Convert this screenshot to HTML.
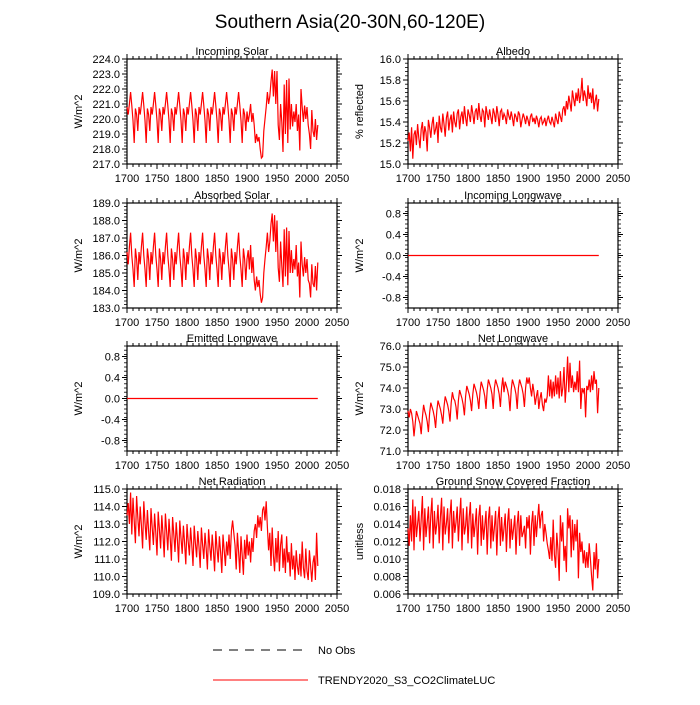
<!DOCTYPE html>
<html><head><meta charset="utf-8"><style>
body{margin:0;background:#fff;}
svg text{font-family:"Liberation Sans",sans-serif;fill:#000;}
</style></head><body>
<svg id="c" width="700" height="700" viewBox="0 0 700 700">
<text x="350" y="28" font-size="19" text-anchor="middle">Southern Asia(20-30N,60-120E)</text>
<g>
<line x1="213" y1="650" x2="308" y2="650" stroke="#000" stroke-width="1" stroke-dasharray="9,7"/>
<text x="318" y="654" font-size="11">No Obs</text>
<line x1="213" y1="680" x2="308" y2="680" stroke="#f00" stroke-width="1"/>
<text x="318" y="684" font-size="11">TRENDY2020_S3_CO2ClimateLUC</text>
</g>
</svg>
<script>
const years = [];
for (let y = 1700; y <= 2018; y += 2) years.push(y);
const xTicks = [1700,1750,1800,1850,1900,1950,2000,2050];

const cycIn = [220.8,220.3,221.0,221.8,220.9,219.9,218.4,220.7,220.3,219.2];
const incomingSolar = [].concat(cycIn,cycIn,cycIn,cycIn,cycIn,cycIn,cycIn,cycIn,cycIn,cycIn,
 [220.5,219.8,220.3,221.0,219.8,220.4,219.6,218.4,219.0,218.5,
  218.8,218.0,217.4,217.5,219.2,220.0,220.8,221.8,221.0,221.5,
  222.5,223.3,221.5,223.2,221.0,223.2,219.6,218.6,221.0,219.8,
  217.8,222.3,219.0,222.6,218.4,222.7,219.3,221.0,219.5,220.5,
  219.8,221.0,219.2,220.3,217.9,222.0,220.8,219.8,220.9,220.0,
  220.8,219.6,219.0,218.0,220.6,219.2,218.8,220.0,218.6,219.6]);

const albedo = [15.22,15.30,15.12,15.35,15.05,15.28,15.32,15.18,15.38,15.25,15.15,15.33,15.40,15.22,15.36,15.30,15.12,15.42,15.35,15.25,
 15.38,15.45,15.28,15.33,15.40,15.20,15.46,15.35,15.30,15.48,15.38,15.26,15.44,15.50,15.32,15.42,15.47,15.30,15.50,15.40,
 15.35,15.48,15.52,15.33,15.45,15.50,15.38,15.55,15.44,15.36,15.52,15.47,15.40,15.56,15.48,15.38,15.50,15.53,15.42,15.58,
 15.46,15.40,15.52,15.50,15.35,15.55,15.48,15.42,15.52,15.45,15.38,15.53,15.48,15.40,15.55,15.47,15.36,15.50,15.52,15.42,
 15.48,15.45,15.38,15.52,15.46,15.42,15.50,15.44,15.36,15.48,15.45,15.40,15.50,15.47,15.35,15.42,15.48,15.44,15.38,15.46,
 15.42,15.36,15.45,15.48,15.40,15.44,15.38,15.46,15.42,15.35,15.43,15.45,15.38,15.40,15.44,15.36,15.42,15.46,15.40,15.38,
 15.45,15.40,15.35,15.48,15.42,15.38,15.50,15.45,15.40,15.52,15.55,15.46,15.60,15.52,15.65,15.58,15.50,15.70,15.62,15.55,
 15.68,15.60,15.72,15.58,15.66,15.82,15.60,15.70,15.64,15.55,15.75,15.62,15.68,15.58,15.72,15.52,15.60,15.66,15.50,15.62];

const cycAb = [186.2,185.5,186.5,187.3,186.0,185.2,184.2,186.4,185.8,184.6];
const absorbedSolar = [].concat(cycAb,cycAb,cycAb,cycAb,cycAb,cycAb,cycAb,cycAb,cycAb,cycAb,
 [185.8,186.3,185.2,186.6,185.0,185.9,184.6,184.0,184.8,184.2,
  184.6,183.8,183.3,183.6,185.0,185.8,186.5,187.3,186.2,186.8,
  187.8,188.4,186.8,188.3,186.2,188.0,185.3,184.5,186.8,185.4,
  184.2,187.5,184.8,187.6,184.3,187.4,185.0,186.3,185.0,185.8,
  185.2,186.6,184.8,185.6,183.6,186.8,185.5,184.8,185.9,185.0,
  185.8,184.6,184.4,183.6,185.5,184.4,184.2,185.4,184.0,185.6]);

const zeros = years.map(() => 0);

const netLongwave = [72.9,72.6,73.0,72.8,72.4,71.7,72.3,72.9,72.7,72.5,72.3,71.8,72.6,73.2,72.9,72.7,72.4,71.9,72.8,73.3,
 73.1,72.9,72.6,72.1,72.9,73.4,73.2,73.0,72.7,72.3,73.1,73.6,73.4,73.2,72.9,72.4,73.3,73.8,73.5,73.4,
 73.1,72.5,73.4,73.9,73.7,73.5,73.2,72.7,73.6,74.1,73.9,73.7,73.4,72.9,73.7,74.2,74.0,73.8,73.5,73.0,
 73.8,74.3,74.1,73.9,73.6,73.0,73.9,74.4,74.2,74.0,73.7,73.0,74.0,74.4,74.2,74.0,73.7,73.1,74.0,74.5,
 73.8,74.3,74.1,73.9,73.6,72.9,73.9,74.4,74.2,74.0,73.7,73.0,74.0,74.4,74.2,74.0,73.7,73.1,74.0,74.5,
 74.2,74.5,74.0,73.6,74.2,73.8,73.2,73.6,73.9,73.0,73.5,73.8,73.2,72.9,73.5,73.3,73.6,74.6,73.6,74.4,
 73.5,74.3,73.6,74.6,73.7,74.5,73.5,74.8,73.6,74.0,75.0,73.3,74.2,75.5,73.8,75.2,74.0,74.6,73.8,74.3,
 73.9,74.8,73.8,75.3,73.0,74.0,73.8,74.0,72.6,74.1,73.9,74.4,73.8,74.6,73.9,74.8,74.2,74.4,72.8,74.0];

const netRadiation = [113.5,114.2,113.0,114.8,112.4,114.5,113.2,111.9,114.6,113.4,112.3,114.0,112.9,111.6,114.3,113.1,112.1,113.8,112.6,111.5,
 113.9,112.8,111.8,113.6,112.5,111.2,113.7,112.7,111.6,113.5,112.4,111.1,113.6,112.6,111.5,113.3,112.2,110.9,113.4,112.4,
 111.4,113.1,112.1,110.8,113.2,112.2,111.3,112.9,111.9,110.7,113.0,112.0,111.2,112.8,111.8,110.6,112.9,111.9,111.1,112.6,
 111.7,110.5,112.8,111.8,111.0,112.5,111.6,110.4,112.7,111.7,110.9,112.4,111.5,110.3,112.6,111.6,110.8,112.3,111.4,110.2,
 112.4,111.5,110.6,112.0,111.2,112.4,111.0,112.6,113.2,112.5,111.8,110.4,112.5,111.4,110.2,112.3,111.2,110.1,112.1,111.0,
 112.4,111.2,112.0,110.8,112.2,111.4,112.6,113.0,112.2,113.5,112.8,113.4,112.6,113.8,114.0,113.2,114.3,112.8,111.5,112.5,
 110.6,112.8,111.2,110.3,112.2,110.8,112.6,110.3,111.8,112.4,110.5,111.6,110.2,112.3,110.8,111.4,110.0,111.9,110.4,111.2,
 109.8,111.5,110.6,110.1,111.3,110.0,112.0,110.5,109.9,111.6,110.3,109.8,111.5,110.6,109.7,110.8,111.2,109.8,112.5,110.6];

const snowFraction = [0.0135,0.0115,0.0150,0.0120,0.0168,0.0110,0.0160,0.0125,0.0140,0.0155,0.0120,0.0145,0.0172,0.0110,0.0158,0.0125,0.0142,0.0160,0.0118,0.0150,
 0.0170,0.0112,0.0155,0.0128,0.0140,0.0162,0.0118,0.0148,0.0170,0.0110,0.0160,0.0128,0.0140,0.0158,0.0118,0.0150,0.0168,0.0112,0.0155,0.0130,
 0.0142,0.0160,0.0120,0.0148,0.0170,0.0110,0.0158,0.0128,0.0138,0.0160,0.0118,0.0148,0.0165,0.0112,0.0152,0.0125,0.0140,0.0158,0.0105,0.0148,
 0.0162,0.0115,0.0150,0.0122,0.0138,0.0155,0.0105,0.0145,0.0160,0.0112,0.0150,0.0120,0.0136,0.0155,0.0104,0.0145,0.0160,0.0115,0.0148,0.0120,
 0.0135,0.0152,0.0108,0.0142,0.0158,0.0112,0.0146,0.0122,0.0135,0.0150,0.0105,0.0140,0.0155,0.0115,0.0150,0.0125,0.0130,0.0138,0.0112,0.0148,
 0.0135,0.0150,0.0105,0.0140,0.0155,0.0115,0.0150,0.0125,0.0145,0.0163,0.0135,0.0150,0.0155,0.0120,0.0140,0.0130,0.0118,0.0110,0.0100,0.0125,
 0.0098,0.0145,0.0105,0.0090,0.0130,0.0110,0.0075,0.0150,0.0120,0.0142,0.0098,0.0115,0.0085,0.0158,0.0135,0.0150,0.0102,0.0145,0.0110,0.0140,
 0.0120,0.0145,0.0078,0.0130,0.0108,0.0120,0.0095,0.0110,0.0090,0.0108,0.0090,0.0118,0.0100,0.0080,0.0064,0.0108,0.0088,0.0118,0.0078,0.0100];

const panelTitles = ["Incoming Solar","Albedo","Absorbed Solar","Incoming Longwave","Emitted Longwave","Net Longwave","Net Radiation","Ground Snow Covered Fraction"];
const yTitles = ["W/m^2","% reflected","W/m^2","W/m^2","W/m^2","W/m^2","W/m^2","unitless"];
const yMins = [217,15.0,183,-1,-1,71,109,0.006];
const yMaxs = [224,16.0,189,1,1,76,115,0.018];
const yTickLabels = [
 ["217.0","218.0","219.0","220.0","221.0","222.0","223.0","224.0"],
 ["15.0","15.2","15.4","15.6","15.8","16.0"],
 ["183.0","184.0","185.0","186.0","187.0","188.0","189.0"],
 ["-0.8","-0.4","0.0","0.4","0.8"],
 ["-0.8","-0.4","0.0","0.4","0.8"],
 ["71.0","72.0","73.0","74.0","75.0","76.0"],
 ["109.0","110.0","111.0","112.0","113.0","114.0","115.0"],
 ["0.006","0.008","0.010","0.012","0.014","0.016","0.018"]];
const seriesList = [incomingSolar,albedo,absorbedSolar,zeros,zeros,netLongwave,netRadiation,snowFraction];

const svg = document.getElementById('c');
const NS = 'http://www.w3.org/2000/svg';
function mk(tag, attrs, parent){const e=document.createElementNS(NS,tag);for(const k in attrs)e.setAttribute(k,attrs[k]);(parent||svg).appendChild(e);return e;}
const lefts=[127,408], tops=[59,203,346,489], W=210, H=105;

for(let p=0;p<8;p++){
 const x0=lefts[p%2], y0=tops[Math.floor(p/2)];
 const g=mk('g',{});
 
 
 const xs=v=>x0+(v-1700)/(2050-1700)*W;
 const ys=v=>y0+H-(v-yMins[p])/(yMaxs[p]-yMins[p])*H;
 const t=mk('text',{x:x0+W/2,y:y0-4,'font-size':11,'text-anchor':'middle'},g);t.textContent=panelTitles[p];
 
 
 const yt=mk('text',{x:0,y:0,'font-size':11,'text-anchor':'middle',transform:`translate(${x0-45},${y0+H/2}) rotate(-90)`},g);yt.textContent=yTitles[p];
 
 
 xTicks.forEach((v,i)=>{
  const x=xs(v);
  mk('line',{x1:x,y1:y0+H,x2:x,y2:y0+H+5,stroke:'#000'},g);
  mk('line',{x1:x,y1:y0,x2:x,y2:y0-5,stroke:'#000'},g);
  const l=mk('text',{x:x,y:y0+H+18,'font-size':11,'text-anchor':'middle'},g);l.textContent=v;
  
  
  if(i<xTicks.length-1){for(let m=1;m<5;m++){const xm=xs(v+m*10);mk('line',{x1:xm,y1:y0+H,x2:xm,y2:y0+H+3,stroke:'#000'},g);mk('line',{x1:xm,y1:y0,x2:xm,y2:y0-3,stroke:'#000'},g);}}
 });
 const labs=yTickLabels[p];
 labs.forEach((s)=>{
  const v=parseFloat(s), y=ys(v);
  mk('line',{x1:x0,y1:y,x2:x0-5,y2:y,stroke:'#000'},g);
  mk('line',{x1:x0+W,y1:y,x2:x0+W+5,y2:y,stroke:'#000'},g);
  const l=mk('text',{x:x0-7,y:y+4,'font-size':11,'text-anchor':'end'},g);l.textContent=s;
  
  
 });
 const step=(parseFloat(labs[1])-parseFloat(labs[0]))/5;
 for(let v=yMins[p];v<=yMaxs[p]+1e-9;v+=step){const y=ys(v);mk('line',{x1:x0,y1:y,x2:x0-3,y2:y,stroke:'#000','stroke-width':0.8},g);mk('line',{x1:x0+W,y1:y,x2:x0+W+3,y2:y,stroke:'#000','stroke-width':0.8},g);}
 mk('rect',{x:x0,y:y0,width:W,height:H,fill:'none',stroke:'#000','stroke-width':1.2},g);
 const data=seriesList[p];
 const pts=[];
 for(let i=0;i<data.length&&i<years.length;i++){pts.push(xs(years[i]).toFixed(1)+','+ys(data[i]).toFixed(1));}
 const line=mk('polyline',{points:pts.join(' '),fill:'none',stroke:'#f00','stroke-width':1.2},g);
 
 
}
</script>
</body></html>
